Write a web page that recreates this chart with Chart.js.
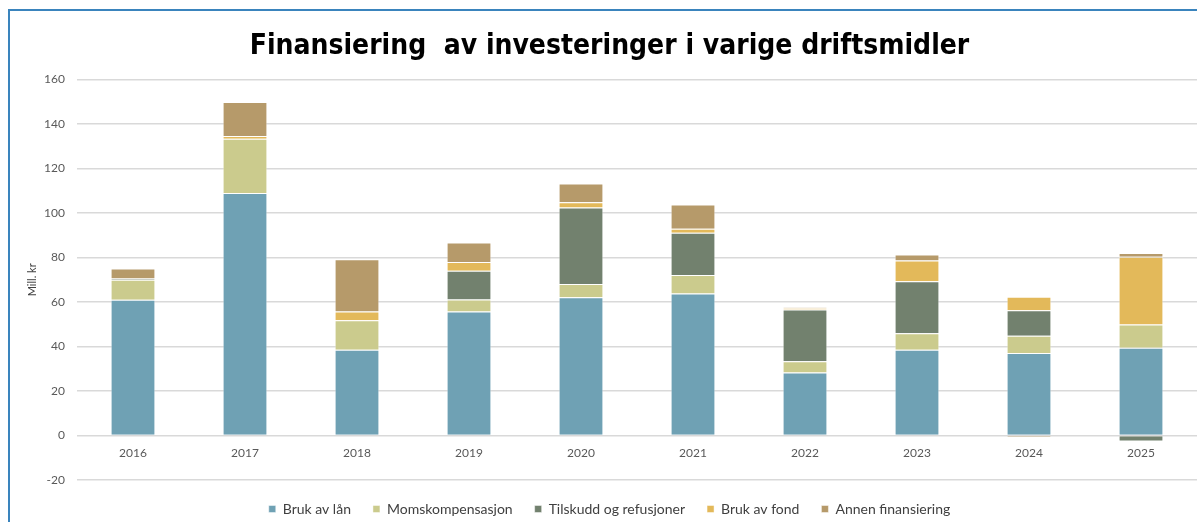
<!DOCTYPE html>
<html>
<head>
<meta charset="utf-8">
<script src="https://cdn.jsdelivr.net/npm/chart.js@4/dist/chart.umd.min.js"></script>
<style>
    html, body { margin: 0; padding: 0; background: #fff; }
    #wrap { position: relative; width: 1197px; height: 522px; }
    #frame {
        position: absolute; left: 8px; top: 9px; right: 0; bottom: 0;
        border-top: 2px solid #3a84bd; border-left: 2px solid #3a84bd;
        pointer-events: none;
    }
</style>
</head>
<body>
<div id="wrap">
    <canvas id="chart" width="1197" height="522"></canvas>
    <div id="frame"></div>
</div>
<script>
const years = ["2016", "2017", "2018", "2019", "2020", "2021", "2022", "2023", "2024", "2025"];
const brukAvLan = [61, 109, 38.5, 55.8, 62.1, 63.8, 28.3, 38.5, 37.1, 39.4];
const moms = [9, 24.4, 13.3, 5.4, 6, 8.4, 5.1, 7.5, 7.8, 10.5];
const tilskudd = [0.6, 0, 0, 12.9, 34.4, 19, 23.3, 23.3, 11.4, -2.7];
const brukAvFond = [0, 1.2, 3.9, 3.9, 2.4, 1.8, 0.5, 9.4, 6.1, 30.5];
const annen = [4.5, 15.3, 23.5, 8.8, 8.4, 10.9, 0.4, 2.7, -0.8, 1.6];

const yTicks = { min: -20, max: 160, step: 20 };

function series(label, data, color) {
    return {
        label: label,
        data: data,
        backgroundColor: color,
        borderColor: "rgba(255,255,255,0.45)",
        borderWidth: 1,
        categoryPercentage: 0.8,
        barPercentage: 0.5
    };
}

new Chart(document.getElementById("chart").getContext("2d"), {
    type: "bar",
    data: {
        labels: years,
        datasets: [
            series("Bruk av lån", brukAvLan, "#6fa1b4"),
            series("Momskompensasjon", moms, "#cbcb8d"),
            series("Tilskudd og refusjoner", tilskudd, "#72816e"),
            series("Bruk av fond", brukAvFond, "#e3b95a"),
            series("Annen finansiering", annen, "#b69a6a")
        ]
    },
    options: {
        responsive: false,
        animation: false,
        layout: { padding: { left: 22, right: 0, top: 10, bottom: -4 } },
        plugins: {
            title: {
                display: true,
                text: "Finansiering  av investeringer i varige driftsmidler",
                color: "#000",
                font: { family: "'DejaVu Sans Condensed', sans-serif", size: 28, weight: "bold" },
                padding: { top: 20, bottom: 16 }
            },
            legend: {
                position: "bottom",
                labels: {
                    boxWidth: 7,
                    boxHeight: 7,
                    padding: 22,
                    color: "#404040",
                    font: { family: "Lato, sans-serif", size: 14 }
                }
            },
            tooltip: { enabled: false }
        },
        scales: {
            x: {
                stacked: true,
                position: { y: 0 },
                grid: { display: false },
                border: { display: false },
                ticks: { color: "#595959", font: { family: "Lato, sans-serif", size: 12 }, padding: 2 }
            },
            y: {
                stacked: true,
                min: yTicks.min,
                max: yTicks.max,
                ticks: { stepSize: yTicks.step, color: "#595959", font: { family: "Lato, sans-serif", size: 12 }, padding: 12 },
                grid: { color: "#d9d9d9", lineWidth: 1.5, drawTicks: false },
                border: { display: false },
                title: { display: true, text: "Mill. kr", color: "#404040", font: { family: "Lato, sans-serif", size: 11 } },
                afterFit: function(scale) { scale.width = 55; }
            }
        }
    }
});
</script>
</body>
</html>
